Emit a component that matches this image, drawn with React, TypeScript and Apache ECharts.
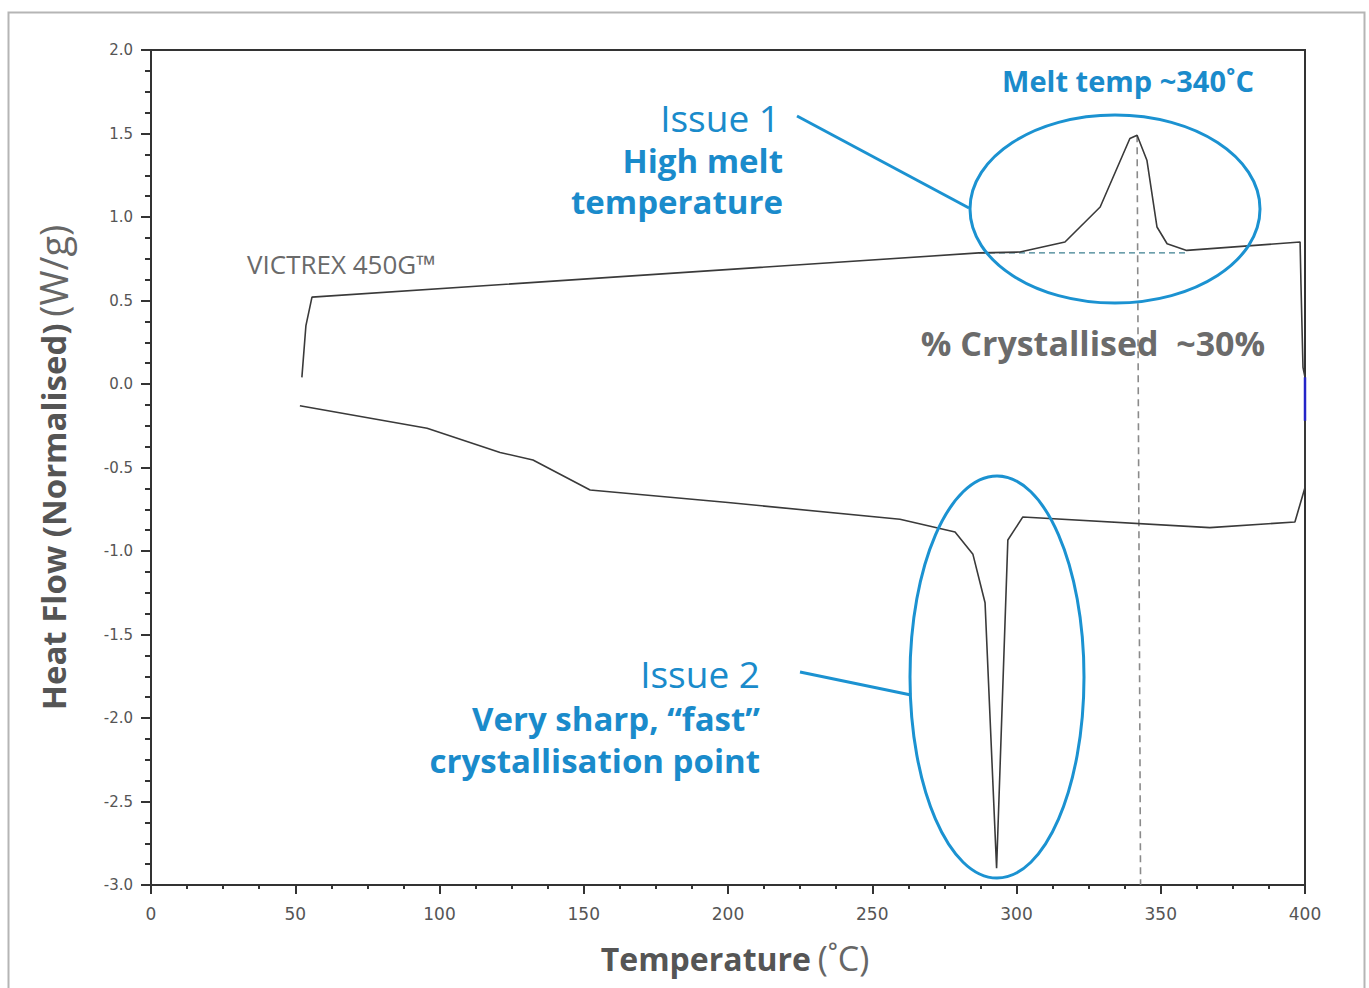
import React, { useEffect, useRef } from "react";
import * as echarts from "echarts";

// Heating scan (upper curve), temperature in °C and heat flow in W/g
const heatT = [52.3, 53.7, 55.8, 287, 301.2, 316.8, 329, 339.3, 341.8, 345.2, 348.7, 352.2, 359, 398.3, 398.6, 399.3, 400];
const heatHF = [0.04, 0.35, 0.52, 0.785, 0.79, 0.85, 1.06, 1.47, 1.49, 1.34, 0.94, 0.84, 0.8, 0.85, 0.6, 0.1, 0.04];
// Transition along the right edge
const edgeT = [400, 400, 396.5];
const edgeHF = [-0.22, -0.62, -0.826];
// Small blue segment at 400 °C
const blueT = [400, 400];
const blueHF = [0.04, -0.22];
// Cooling scan (lower curve)
const coolT = [396.5, 367, 302.2, 297, 293.1, 289.1, 284.9, 278.7, 259.6, 200, 152.2, 132.4, 121, 95.7, 51.6];
const coolHF = [-0.826, -0.86, -0.796, -0.934, -2.9, -1.31, -1.02, -0.886, -0.81, -0.71, -0.635, -0.455, -0.41, -0.265, -0.13];
// Baseline under the melt peak and the vertical marker at the peak
const baseT = [287, 359];
const baseHF = [0.785, 0.785];
const peakT = [341.8, 343];
const peakHF = [1.49, -3.0];

const xTicks = [0, 50, 100, 150, 200, 250, 300, 350, 400];
const yTicks = [-3.0, -2.5, -2.0, -1.5, -1.0, -0.5, 0.0, 0.5, 1.0, 1.5, 2.0];

const zip = (a: number[], b: number[]) => a.map((v, i) => [v, b[i]]);

const BLUE = "#1b92d1";
const BLUE_TXT = "#1a8bcb";
const FONT = "'Open Sans', 'Noto Sans', sans-serif";

export default function App() {
  const ref = useRef<HTMLDivElement>(null);
  useEffect(() => {
    if (!ref.current) return;
    const chart = echarts.init(ref.current, undefined, { renderer: "svg" });
    chart.setOption({
      animation: false,
      backgroundColor: "#ffffff",
      grid: {
        left: 151,
        top: 50,
        right: 64,
        bottom: 103,
        show: true,
        borderColor: "#333",
        borderWidth: 2,
      },
      xAxis: {
        type: "value",
        min: xTicks[0],
        max: xTicks[xTicks.length - 1],
        interval: 50,
        splitLine: { show: false },
        axisLine: { show: true, onZero: false, lineStyle: { color: "#333", width: 2 } },
        axisTick: { show: true, length: 9, lineStyle: { color: "#333", width: 2 } },
        minorTick: { show: true, splitNumber: 4, length: 4, lineStyle: { color: "#333", width: 2 } },
        axisLabel: {
          margin: 20,
          color: "#555",
          fontSize: 17,
          fontFamily: "'DejaVu Sans', sans-serif",
        },
        name: "{b|Temperature}  {r|(˚C)}",
        nameLocation: "middle",
        nameGap: 56,
        nameTextStyle: {
          padding: [0, 0, 0, 14],
          rich: {
            b: { fontFamily: FONT, fontWeight: "bold", fontSize: 32, color: "#555" },
            r: { fontFamily: FONT, fontWeight: "normal", fontSize: 34, color: "#666" },
          },
        },
      },
      yAxis: {
        type: "value",
        min: yTicks[0],
        max: yTicks[yTicks.length - 1],
        interval: 0.5,
        splitLine: { show: false },
        axisLine: { show: true, onZero: false, lineStyle: { color: "#333", width: 2 } },
        axisTick: { show: true, length: 10, lineStyle: { color: "#333", width: 2 } },
        minorTick: { show: true, splitNumber: 4, length: 6, lineStyle: { color: "#333", width: 2 } },
        axisLabel: {
          margin: 18,
          color: "#555",
          fontSize: 15,
          fontFamily: "'DejaVu Sans', sans-serif",
          formatter: (v: number) => v.toFixed(1),
        },
        name: "{b|Heat Flow (Normalised)}  {r|(W/g)}",
        nameLocation: "middle",
        nameRotate: 90,
        nameGap: 79,
        nameTextStyle: {
          rich: {
            b: { fontFamily: FONT, fontWeight: "bold", fontSize: 33, color: "#555" },
            r: { fontFamily: FONT, fontWeight: "normal", fontSize: 38, color: "#666" },
          },
        },
      },
      series: [
        {
          type: "line",
          data: zip(heatT, heatHF).concat(zip(edgeT, edgeHF)).concat(zip(coolT, coolHF)),
          showSymbol: false,
          symbol: "none",
          lineStyle: { color: "#3a3a3a", width: 1.6 },
          z: 3,
        },
        {
          type: "line",
          data: zip(blueT, blueHF),
          symbol: "none",
          lineStyle: { color: "#2424c8", width: 2.5 },
          z: 4,
        },
        {
          type: "line",
          data: zip(baseT, baseHF),
          symbol: "none",
          lineStyle: { color: "#3d7f90", width: 1.3, type: [6, 4] },
          z: 2,
        },
        {
          type: "line",
          data: zip(peakT, peakHF),
          symbol: "none",
          lineStyle: { color: "#8a8a8a", width: 1.6, type: [7, 5] },
          z: 2,
        },
      ],
      graphic: [
        {
          type: "rect",
          shape: { x: 8.5, y: 12.5, width: 1356, height: 1000 },
          style: { fill: "none", stroke: "#b5b5b5", lineWidth: 2 },
          silent: true,
          z: -1,
        },
        {
          type: "ellipse",
          shape: { cx: 1115, cy: 209, rx: 145, ry: 94 },
          style: { fill: "none", stroke: BLUE, lineWidth: 3 },
          z: 10,
        },
        {
          type: "ellipse",
          shape: { cx: 997, cy: 677, rx: 87, ry: 201 },
          style: { fill: "none", stroke: BLUE, lineWidth: 3 },
          z: 10,
        },
        {
          type: "line",
          shape: { x1: 797, y1: 116, x2: 969, y2: 208 },
          style: { stroke: BLUE, lineWidth: 3 },
          z: 10,
        },
        {
          type: "line",
          shape: { x1: 800, y1: 672, x2: 911, y2: 695 },
          style: { stroke: BLUE, lineWidth: 3 },
          z: 10,
        },
        {
          type: "text",
          style: { x: 1128, y: 80, text: "Melt temp ~340˚C", textAlign: "center", textVerticalAlign: "middle", fill: BLUE_TXT, font: `bold 29px ${FONT}` },
          z: 10,
        },
        {
          type: "text",
          style: { x: 780, y: 117, text: "Issue 1", textAlign: "right", textVerticalAlign: "middle", fill: BLUE_TXT, font: `normal 37px ${FONT}` },
          z: 10,
        },
        {
          type: "text",
          style: { x: 783, y: 160, text: "High melt", textAlign: "right", textVerticalAlign: "middle", fill: BLUE_TXT, font: `bold 33px ${FONT}` },
          z: 10,
        },
        {
          type: "text",
          style: { x: 783, y: 201, text: "temperature", textAlign: "right", textVerticalAlign: "middle", fill: BLUE_TXT, font: `bold 33px ${FONT}` },
          z: 10,
        },
        {
          type: "text",
          style: { x: 247, y: 264, text: "VICTREX 450G™", textAlign: "left", textVerticalAlign: "middle", fill: "#6a6a6a", font: `normal 26px ${FONT}` },
          z: 10,
        },
        {
          type: "text",
          style: { x: 1093, y: 343, text: "% Crystallised  ~30%", textAlign: "center", textVerticalAlign: "middle", fill: "#6b6b6b", font: `bold 34px ${FONT}` },
          z: 10,
        },
        {
          type: "text",
          style: { x: 760, y: 673, text: "Issue 2", textAlign: "right", textVerticalAlign: "middle", fill: BLUE_TXT, font: `normal 37px ${FONT}` },
          z: 10,
        },
        {
          type: "text",
          style: { x: 760, y: 718, text: "Very sharp, “fast”", textAlign: "right", textVerticalAlign: "middle", fill: BLUE_TXT, font: `bold 33px ${FONT}` },
          z: 10,
        },
        {
          type: "text",
          style: { x: 760, y: 760, text: "crystallisation point", textAlign: "right", textVerticalAlign: "middle", fill: BLUE_TXT, font: `bold 33px ${FONT}` },
          z: 10,
        },
      ],
    });
    return () => chart.dispose();
  }, []);
  return (
    <div
      ref={ref}
      style={{ position: "absolute", left: 0, top: 0, width: 1369, height: 988, background: "#fff" }}
    />
  );
}
